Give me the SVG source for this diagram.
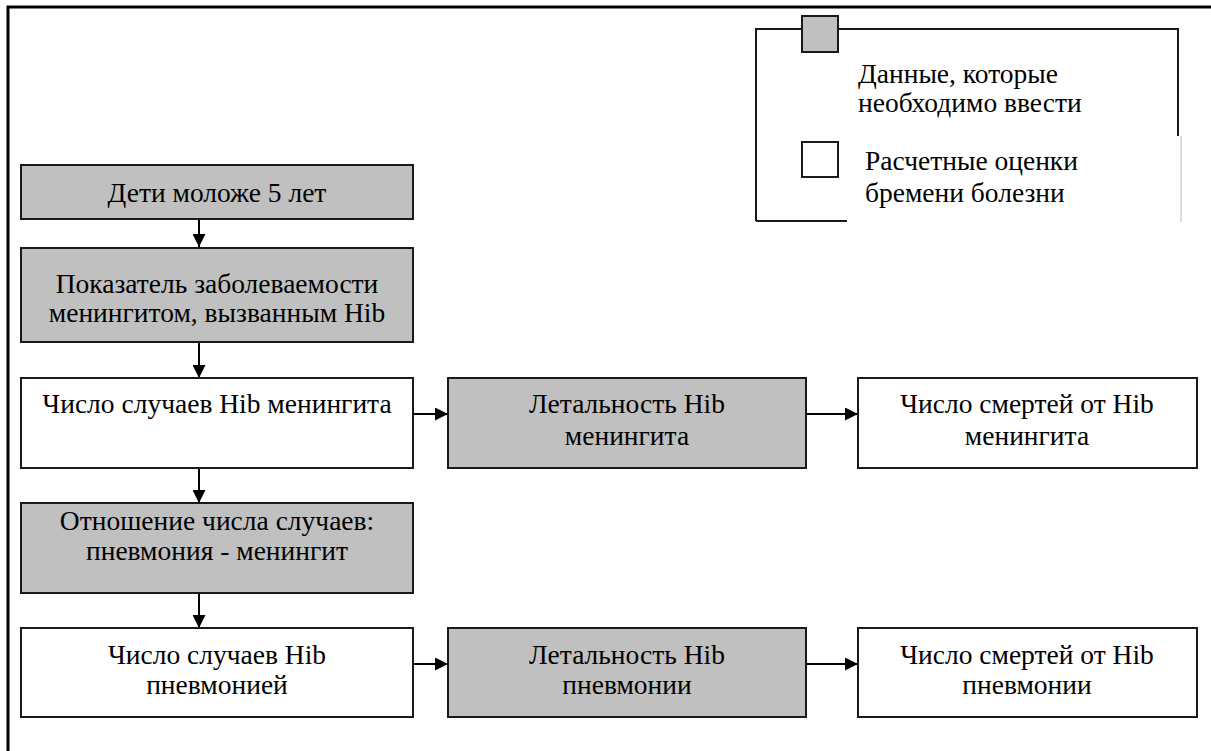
<svg xmlns="http://www.w3.org/2000/svg" width="1211" height="751" viewBox="0 0 1211 751" font-family="Liberation Serif, Times New Roman, serif" font-size="27.5">
<defs>
<style>
.box{stroke:#1a1a1a;stroke-width:2}
.in{fill:#c0c0c0}
.out{fill:#ffffff}
.t{text-anchor:middle}
.c{stroke:#000;stroke-width:2;fill:none;marker-end:url(#ah)}
</style>
<marker id="ah" viewBox="0 0 13 13" refX="13" refY="6.5" markerWidth="13" markerHeight="13" markerUnits="userSpaceOnUse" orient="auto">
<path d="M0,0 L13,6.5 L0,13 Z" fill="#000"/>
</marker>
</defs>
<rect width="1211" height="751" fill="#fff"/>
<g id="frame">
<path d="M8,751 V7 H1211" fill="none" stroke="#000" stroke-width="3"/>
</g>
<g id="legend">
<path d="M756,221 V29 H802 M838,29 H1178 V136" fill="none" stroke="#1a1a1a" stroke-width="2"/>
<path d="M756,221 H847" fill="none" stroke="#1a1a1a" stroke-width="2"/>
<path d="M1181,136 V222" fill="none" stroke="#bbb" stroke-width="1"/>
<rect class="box in" x="802" y="16" width="36" height="36"/>
<rect class="box out" x="802" y="142" width="36" height="35"/>
<text x="858" y="83">Данные, которые</text>
<text x="858" y="112">необходимо ввести</text>
<text x="865" y="170">Расчетные оценки</text>
<text x="865" y="202">бремени болезни</text>
</g>
<g id="connectors">
<path class="c" d="M199,219 V247"/>
<path class="c" d="M199,342 V378"/>
<path class="c" d="M199,468 V503"/>
<path class="c" d="M199,593 V628"/>
<path class="c" d="M413,414 H448"/>
<path class="c" d="M806,414 H858"/>
<path class="c" d="M413,664 H448"/>
<path class="c" d="M806,664 H858"/>
</g>
<g id="n1"><rect class="box in" x="21" y="165" width="392" height="54"/>
<text class="t" x="217" y="202">Дети моложе 5 лет</text></g>
<g id="n2"><rect class="box in" x="21" y="248" width="392" height="94"/>
<text class="t" x="217" y="293">Показатель заболеваемости</text>
<text class="t" x="217" y="322">менингитом, вызванным Hib</text></g>
<g id="n3"><rect class="box out" x="21" y="378" width="392" height="90"/>
<text class="t" x="217" y="413">Число случаев Hib менингита</text></g>
<g id="n4"><rect class="box in" x="448" y="378" width="358" height="90"/>
<text class="t" x="627" y="413">Летальность Hib</text>
<text class="t" x="627" y="445">менингита</text></g>
<g id="n5"><rect class="box out" x="858" y="378" width="339" height="90"/>
<text class="t" x="1027" y="413">Число смертей от Hib</text>
<text class="t" x="1027" y="445">менингита</text></g>
<g id="n6"><rect class="box in" x="21" y="503" width="392" height="90"/>
<text class="t" x="217" y="530">Отношение числа случаев:</text>
<text class="t" x="217" y="560">пневмония - менингит</text></g>
<g id="n7"><rect class="box out" x="21" y="628" width="392" height="89"/>
<text class="t" x="217" y="664">Число случаев Hib</text>
<text class="t" x="217" y="694">пневмонией</text></g>
<g id="n8"><rect class="box in" x="448" y="628" width="358" height="89"/>
<text class="t" x="627" y="664">Летальность Hib</text>
<text class="t" x="627" y="694">пневмонии</text></g>
<g id="n9"><rect class="box out" x="858" y="628" width="339" height="89"/>
<text class="t" x="1027" y="664">Число смертей от Hib</text>
<text class="t" x="1027" y="694">пневмонии</text></g>
</svg>
